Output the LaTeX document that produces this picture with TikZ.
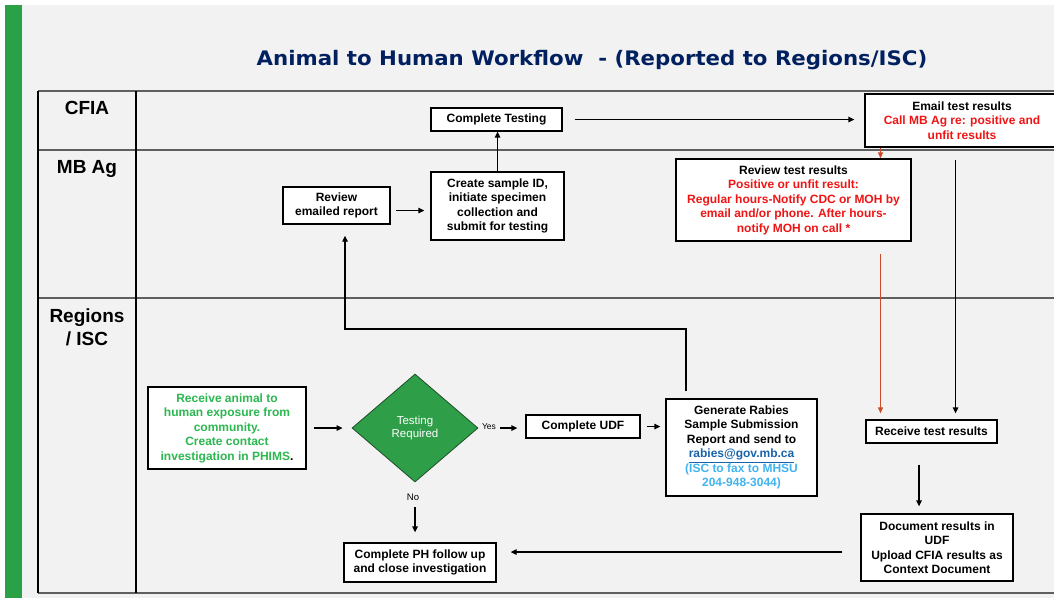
\documentclass[tikz,border=0pt]{standalone}
\usepackage{fontspec}
\setmainfont{Liberation Sans}
\newfontfamily\titlefont{DejaVu Sans}
\usetikzlibrary{arrows.meta,shapes.geometric,calc,shadows}
\definecolor{bg}{RGB}{242,242,242}
\definecolor{bargreen}{RGB}{42,161,70}
\definecolor{dgreen}{RGB}{46,158,72}
\definecolor{dborder}{RGB}{30,80,40}
\definecolor{tgreen}{RGB}{44,184,80}
\definecolor{navy}{RGB}{0,32,96}
\definecolor{rtext}{RGB}{240,20,20}
\definecolor{rline}{RGB}{205,75,45}
\definecolor{linkblue}{RGB}{25,100,170}
\definecolor{lblue}{RGB}{65,180,240}
\definecolor{gridgray}{RGB}{95,95,95}
\begin{document}
\begin{tikzpicture}[x=1pt,y=-1pt,
  box/.style={draw=black, line width=1.3pt, fill=white, inner sep=0pt, align=center,
    font=\fontsize{12}{14.5}\selectfont\bfseries,
    drop shadow={shadow xshift=1pt, shadow yshift=-1pt, fill=black!30, opacity=1}},
  arr/.style={line width=1.3pt, -{Triangle[length=6pt,width=5.5pt]}},
  rarr/.style={line width=1pt, draw=rline, -{Triangle[length=6pt,width=5pt,fill=rline]}},
  lane/.style={font=\fontsize{19}{22}\selectfont\bfseries, anchor=base},
  hline/.style={draw=gridgray, line width=1.6pt},
  vline/.style={draw=black, line width=1.1pt}]
% background
\fill[white] (0,0) rectangle (1054,598);
\fill[bg] (5,5) rectangle (1054,598);
\fill[bargreen] (5,5) rectangle (22,598);
\useasboundingbox (0,0) rectangle (1054,598);
% title
\node[anchor=base, text=navy, font=\titlefont\bfseries\fontsize{20}{24}\selectfont] (title) at (592,65)
  {\scalebox{1.065}[1]{Animal to Human Workflow\ \ - (Reported to Regions/ISC)}};
% swimlane table
\draw[hline] (38,91) -- (1054,91);
\draw[hline] (38,150) -- (1054,150);
\draw[hline] (38,298) -- (1054,298);
\draw[hline] (38,593) -- (1054,593);
\draw[vline] (38,91) -- (38,593);
\draw[vline] (136,91) -- (136,593);
\node[lane] (lcfia) at (87,114) {CFIA};
\node[lane] (lmbag) at (87,173) {MB Ag};
\node[lane] (lreg) at (87,322) {Regions};
\node[lane] (lisc) at (87,345) {/ ISC};
% nodes
\node[box, minimum width=131pt, minimum height=23pt] (ctest) at (496.5,119.5) {Complete Testing};
\node[box, minimum width=194pt, minimum height=53pt] (email) at (962,120.5)
  {Email test results\\\textcolor{rtext}{Call MB Ag re: positive and}\\\textcolor{rtext}{unfit results}};
\node[box, minimum width=133pt, minimum height=68pt] (create) at (497.5,206)
  {Create sample ID,\\initiate specimen\\collection and\\submit for testing};
\node[box, minimum width=107pt, minimum height=37pt] (review) at (336.5,205.5) {Review\\emailed report};
\node[box, minimum width=235pt, minimum height=82pt] (rtest) at (793.5,200)
  {Review test results\\\textcolor{rtext}{Positive or unfit result:}\\\textcolor{rtext}{Regular hours-Notify CDC or MOH by}\\\textcolor{rtext}{email and/or phone. After hours-}\\\textcolor{rtext}{notify MOH on call *}};
\node[box, minimum width=158pt, minimum height=82pt] (recvexp) at (227,428)
  {\textcolor{tgreen}{Receive animal to}\\\textcolor{tgreen}{human exposure from}\\\textcolor{tgreen}{community.}\\\textcolor{tgreen}{Create contact}\\\textcolor{tgreen}{investigation in PHIMS}.};
\node[diamond, draw=dborder, line width=0.8pt, fill=dgreen, minimum width=126pt, minimum height=108pt,
  inner sep=0pt, text=white, align=center, font=\fontsize{11.5}{12.5}\selectfont] (dec) at (415,428) {Testing\\Required};
\node[box, minimum width=114pt, minimum height=23pt] (cudf) at (583,426.5) {Complete UDF};
\node[box, minimum width=151pt, minimum height=97pt] (gen) at (741.5,447.5)
  {Generate Rabies\\Sample Submission\\Report and send to\\\textcolor{linkblue}{\smash{\underline{rabies@gov.mb.ca}}}\\\textcolor{lblue}{(ISC to fax to MHSU}\\\textcolor{lblue}{204-948-3044)}};
\node[box, minimum width=131pt, minimum height=23pt] (recv) at (931.5,431.5) {Receive test results};
\node[box, minimum width=152pt, minimum height=67pt] (doc) at (937,547.5)
  {Document results in\\UDF\\Upload CFIA results as\\Context Document};
\node[box, minimum width=152pt, minimum height=39pt] (ph) at (420,562.5)
  {Complete PH follow up\\and close investigation};
\node[font=\fontsize{8.5}{10}\selectfont] (yes) at (489,427) {Yes};
\node[font=\fontsize{9.5}{11}\selectfont] (no) at (413,497) {No};
% helper coordinates
\coordinate (rx) at (880.5,0);
\coordinate (bx) at (955.5,0);
\coordinate (dx) at (919,0);
\coordinate (gx) at (686,0);
\coordinate (lp) at (345,329);
% connectors
\draw[arr, shorten <=7pt, shorten >=9pt] (recvexp.east) -- (dec.west);
\draw[arr, shorten <=22pt, shorten >=8pt] (dec.east) -- (dec.east -| cudf.west);
\draw[arr, shorten <=6pt, shorten >=5pt] (cudf.east) -- (cudf.east -| gen.west);
\draw[arr, shorten <=7pt, shorten >=11pt] (gen.north -| gx) |- (lp) -- (review.south -| lp);
\draw[arr, shorten <=5pt, shorten >=6pt] ([yshift=-5pt]review.east) -- ([yshift=-5pt]review.east -| create.west);
\draw[arr] (create.north) -- (create.north |- ctest.south);
\draw[arr, shorten <=12pt, shorten >=10pt] (ctest.east) -- (ctest.east -| email.west);
\draw[rarr] (email.south -| rx) -- (rtest.north -| rx);
\draw[arr, shorten <=12pt, shorten >=6pt] (email.south -| bx) -- (recv.north -| bx);
\draw[rarr, shorten <=12pt, shorten >=6pt] (rtest.south -| rx) -- (recv.north -| rx);
\draw[arr, shorten <=21pt, shorten >=7pt] (recv.south -| dx) -- (doc.north -| dx);
\draw[arr, shorten <=18pt, shorten >=14pt] ([yshift=-4.5pt]doc.west) -- ([yshift=-4.5pt]doc.west -| ph.east);
\draw[arr, shorten <=25pt, shorten >=10pt] (dec.south) -- (dec.south |- ph.north);
\end{tikzpicture}
\end{document}
